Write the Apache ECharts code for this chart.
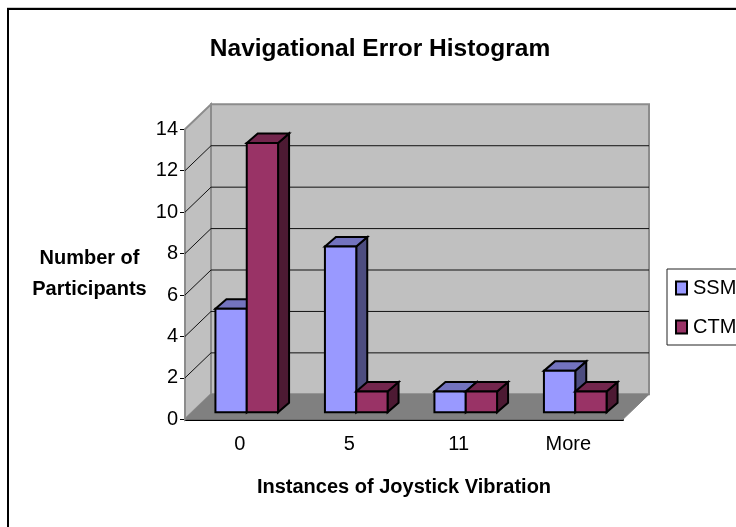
<!DOCTYPE html>
<html>
<head>
<meta charset="utf-8">
<style>html,body{margin:0;padding:0;background:#fff}#chart{width:736px;height:527px}</style>
<script src="https://cdn.jsdelivr.net/npm/echarts@6/dist/echarts.min.js"></script>
</head>
<body>
<div id="chart"></div>
<script>
// histogram data
var categories = ['0', '5', '11', 'More'];
var ssmValues = [5, 8, 1, 2];
var ctmValues = [13, 1, 1, 1];
var gridTicks = [2, 4, 6, 8, 10, 12, 14];

var WALL_DX = 26, WALL_DY = 25;   // depth of the chart box
var FRONT_DX = 7, FRONT_DY = 7;   // bars stand a bit behind the front edge
var BAR_DX = 11, BAR_DY = 9.5;    // depth of one bar

var chart = echarts.init(document.getElementById('chart'));

function poly(points, fill, stroke, lw) {
	return {
		type: 'polygon',
		shape: { points: points },
		style: { fill: fill, stroke: stroke || 'none', lineWidth: lw || 0 }
	};
}

// walls and floor
function renderBox(params, api) {
	var c = params.coordSys;
	var l = c.x, r = c.x + c.width, t = c.y, b = c.y + c.height;
	var dx = WALL_DX, dy = WALL_DY;
	var kids = [
		poly([[l, b], [l, t], [l + dx, t - dy], [l + dx, b - dy]], '#c0c0c0', '#8c8c8c', 2),
		poly([[l + dx, t - dy], [r + dx, t - dy], [r + dx, b - dy], [l + dx, b - dy]], '#c0c0c0', '#8c8c8c', 2),
		poly([[l, b], [r, b], [r + dx, b - dy], [l + dx, b - dy]], '#808080', '#808080', 1)
	];
	gridTicks.forEach(function (v) {
		if (v === 14) return;
		var y = api.coord([0, v])[1];
		kids.push({
			type: 'polyline',
			shape: { points: [[l, y], [l + dx, y - dy], [r + dx, y - dy]] },
			style: { fill: 'none', stroke: '#111', lineWidth: 1 }
		});
	});
	return { type: 'group', children: kids };
}

// one 3d bar, slot 0 = SSM, slot 1 = CTM
function makeBar(slot, color, topColor, sideColor) {
	return function (params, api) {
		var idx = api.value(0), val = api.value(1);
		var p = api.coord([idx, val]);
		var base = api.coord([idx, 0]);
		var band = api.size([1, 0])[0];
		var w = band * 0.286;
		var x0 = p[0] + FRONT_DX + (slot - 1) * w, x1 = x0 + w;
		var yT = p[1] - FRONT_DY, yB = base[1] - FRONT_DY;
		function face(points, fill) {
			return {
				type: 'polygon',
				shape: { points: points },
				style: { fill: fill, stroke: '#000', lineWidth: 2, lineJoin: 'miter' }
			};
		}
		return {
			type: 'group',
			children: [
				face([[x1, yT], [x1 + BAR_DX, yT - BAR_DY], [x1 + BAR_DX, yB - BAR_DY], [x1, yB]], sideColor),
				face([[x0, yT], [x0 + BAR_DX, yT - BAR_DY], [x1 + BAR_DX, yT - BAR_DY], [x1, yT]], topColor),
				face([[x0, yT], [x1, yT], [x1, yB], [x0, yB]], color)
			]
		};
	};
}

function pairs(values) {
	return values.map(function (v, i) { return [i, v]; });
}

var option = {
	animation: false,
	backgroundColor: '#fff',
	textStyle: { fontFamily: 'Liberation Sans' },
	title: {
		text: 'Navigational Error Histogram',
		left: 375, top: 32, textAlign: 'center',
		textStyle: { fontSize: 24.5, fontWeight: 'bold', color: '#000', fontFamily: 'Liberation Sans' }
	},
	legend: {
		left: 667, top: 269,
		orient: 'vertical',
		data: ['SSM', 'CTM'],
		icon: 'rect',
		itemWidth: 11, itemHeight: 13,
		itemGap: 19,
		padding: [9, 30, 8, 8],
		borderColor: '#222', borderWidth: 1, borderRadius: 0,
		textStyle: { fontSize: 20, color: '#000', fontFamily: 'Liberation Sans', padding: [0, 0, 0, 1] }
	},
	grid: { left: 185, top: 129.3, width: 438, height: 290 },
	xAxis: {
		type: 'category',
		data: categories,
		name: 'Instances of Joystick Vibration',
		nameLocation: 'middle',
		nameGap: 58,
		nameTextStyle: { fontSize: 20, fontWeight: 'bold', color: '#000', fontFamily: 'Liberation Sans' },
		axisLine: { lineStyle: { color: '#000', width: 2 } },
		axisTick: { length: 5, lineStyle: { color: '#000', width: 1 } },
		axisLabel: { fontSize: 20, color: '#000', margin: 15 },
		splitLine: { show: false }
	},
	yAxis: {
		type: 'value',
		min: 0, max: 14, interval: 2,
		axisLine: { show: true, lineStyle: { color: '#000', width: 1 } },
		axisTick: { show: true, length: 5, lineStyle: { color: '#000' } },
		axisLabel: { fontSize: 20, color: '#000', margin: 7 },
		splitLine: { show: false }
	},
	graphic: [
		{
			type: 'rect', silent: true, z: -1,
			shape: { x: 8, y: 9, width: 740, height: 540 },
			style: { fill: 'none', stroke: '#000', lineWidth: 2 }
		},
		{
			type: 'rect', silent: true, z: -1,
			shape: { x: 7, y: 7, width: 729, height: 1 },
			style: { fill: '#cccccc' }
		},
		{
			type: 'text', x: 89.5, y: 258, silent: true,
			style: {
				text: 'Number of', fill: '#000', align: 'center', verticalAlign: 'middle',
				font: 'bold 20px "Liberation Sans"'
			}
		},
		{
			type: 'text', x: 89.5, y: 289, silent: true,
			style: {
				text: 'Participants', fill: '#000', align: 'center', verticalAlign: 'middle',
				font: 'bold 20px "Liberation Sans"'
			}
		}
	],
	series: [
		{
			type: 'custom', name: 'box', silent: true, z: 1,
			renderItem: renderBox,
			data: [[0, 0]],
			clip: false
		},
		{
			type: 'custom', name: 'SSM', z: 2,
			itemStyle: { color: '#9999ff', borderColor: '#000', borderWidth: 2 },
			renderItem: makeBar(0, '#9999ff', '#7373bf', '#4d4d80'),
			encode: { x: 0, y: 1 },
			data: pairs(ssmValues),
			clip: false
		},
		{
			type: 'custom', name: 'CTM', z: 3,
			itemStyle: { color: '#993366', borderColor: '#000', borderWidth: 2 },
			renderItem: makeBar(1, '#993366', '#73264d', '#4d1a33'),
			encode: { x: 0, y: 1 },
			data: pairs(ctmValues),
			clip: false
		}
	]
};
chart.setOption(option);
</script>
</body>
</html>
